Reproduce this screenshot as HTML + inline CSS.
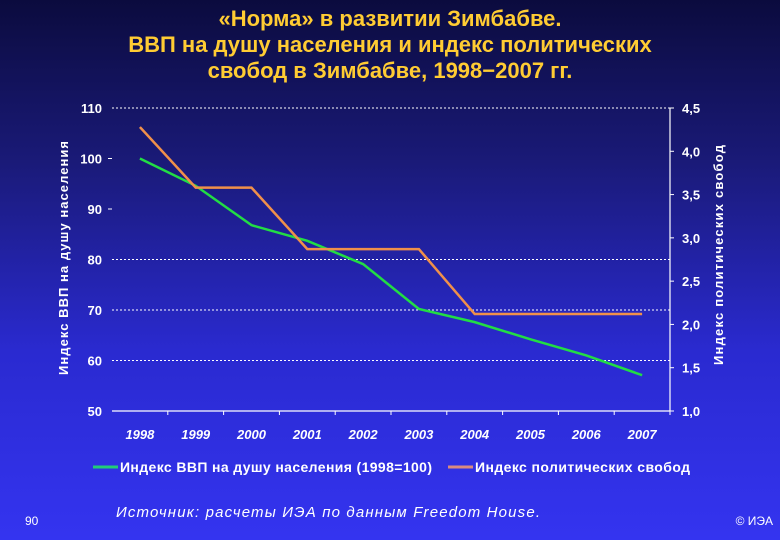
<!DOCTYPE html>
<html><head><meta charset="utf-8"><style>
html,body{margin:0;padding:0}
body{width:780px;height:540px;overflow:hidden;background:linear-gradient(#0b0b3e 0%,#1a1a78 30%,#2a2ad0 65%,#3434f0 100%);font-family:"Liberation Sans",sans-serif;position:relative}
#title{position:absolute;left:0;top:6px;width:780px;text-align:center;color:#ffcc33;font-weight:bold;font-size:22px;line-height:26px}
</style></head><body>
<div id="title">«Норма» в развитии Зимбабве.<br>ВВП на душу населения и индекс политических<br>свобод в Зимбабве, 1998−2007 гг.</div>
<svg id="chart" width="780" height="540" style="position:absolute;left:0;top:0" font-family="Liberation Sans, sans-serif"></svg>
<script>
const years=["1998","1999","2000","2001","2002","2003","2004","2005","2006","2007"];
const gdpValues=[100,94.6,86.8,83.7,79.1,70.2,67.6,64.2,61,57.1];
const freedomValues=[4.28,3.58,3.58,2.87,2.87,2.87,2.12,2.12,2.12,2.12];
const leftTicks=[50,60,70,80,90,100,110];
const rightTicks=["1,0","1,5","2,0","2,5","3,0","3,5","4,0","4,5"];
const svg=document.getElementById('chart');
const NS='http://www.w3.org/2000/svg';
const X0=112,X1=670,Y0=411,Y1=108;
const yL=v=>Y0-(v-50)/60*(Y0-Y1);
const yR=v=>Y0-(v-1)/3.5*(Y0-Y1);
const step=(X1-X0)/10;
const xI=i=>X0+step*(i+0.5);
function mk(t,a,txt){const e=document.createElementNS(NS,t);for(const k in a)e.setAttribute(k,a[k]);if(txt!=null)e.textContent=txt;svg.appendChild(e);return e;}
leftTicks.forEach(v=>{
  const y=yL(v);
  const t=mk('text',{x:102,y:y+5,'text-anchor':'end',fill:'#fff','font-size':13,'font-weight':'bold'},String(v));
  
  
  if(v===60||v===70||v===80||v===110){
    const g=mk('line',{x1:X0,x2:X1,y1:y,y2:y,stroke:'#fff','stroke-width':1,'stroke-dasharray':'2,2'});
    
    
  } else if(v!==50){
    const g=mk('line',{x1:X0-4,x2:X0,y1:y,y2:y,stroke:'#fff','stroke-width':1});
    
    
  }
});
rightTicks.forEach((s,i)=>{
  const y=yR(1+i*0.5);
  const t=mk('text',{x:682,y:y+5,fill:'#fff','font-size':13,'font-weight':'bold'},s);
  
  
  const m=mk('line',{x1:X1,x2:X1+4,y1:y,y2:y,stroke:'#fff'});
  
  
});
const ax=mk('line',{x1:X0,x2:X1,y1:Y0,y2:Y0,stroke:'#fff','stroke-width':1.2});


const ra=mk('line',{x1:X1,x2:X1,y1:Y1,y2:Y0,stroke:'#fff','stroke-width':1.2});


years.forEach((yr,i)=>{
  const tm=mk('line',{x1:X0+step*(i+1),x2:X0+step*(i+1),y1:Y0,y2:Y0+4,stroke:'#fff'});
  
  
  const t=mk('text',{x:xI(i),y:439,'text-anchor':'middle',fill:'#fff','font-size':13,'font-weight':'bold','font-style':'italic'},yr);
  
  
});
const gp=mk('polyline',{points:gdpValues.map((v,i)=>xI(i)+','+yL(v)).join(' '),fill:'none',stroke:'#22dd44','stroke-width':2.5});


const fp=mk('polyline',{points:freedomValues.map((v,i)=>xI(i)+','+yR(v)).join(' '),fill:'none',stroke:'#f0904a','stroke-width':2.5});


const lt=mk('text',{x:0,y:0,transform:'translate(68,258) rotate(-90)','text-anchor':'middle',fill:'#fff','font-size':13,'font-weight':'bold',textLength:234},'Индекс ВВП на душу населения');


const rt=mk('text',{x:0,y:0,transform:'translate(723,255) rotate(-90)','text-anchor':'middle',fill:'#fff','font-size':13,'font-weight':'bold',textLength:220},'Индекс политических свобод');


const l1=mk('line',{x1:93,x2:118,y1:467,y2:467,stroke:'#22cc77','stroke-width':3});


const t1=mk('text',{x:120,y:472,fill:'#fff','font-size':14,'font-weight':'bold',textLength:312},'Индекс ВВП на душу населения (1998=100)');


const l2=mk('line',{x1:448,x2:473,y1:467,y2:467,stroke:'#d98a80','stroke-width':3});


const t2=mk('text',{x:475,y:472,fill:'#fff','font-size':14,'font-weight':'bold',textLength:215},'Индекс политических свобод');


const src=mk('text',{x:116,y:517,fill:'#fff','font-size':15,'font-style':'italic',textLength:424},'Источник: расчеты ИЭА по данным Freedom House.');


const pg=mk('text',{x:25,y:525,fill:'#fff','font-size':12},'90');


const cp=mk('text',{x:773,y:525,'text-anchor':'end',fill:'#fff','font-size':12},'© ИЭА');


</script>
</body></html>
